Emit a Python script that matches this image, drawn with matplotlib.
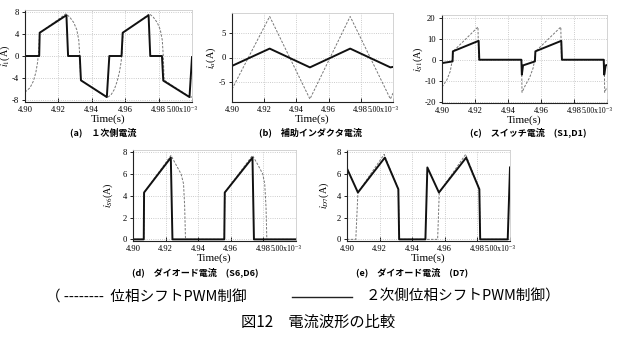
import matplotlib
matplotlib.use('Agg')
import matplotlib.pyplot as plt
from matplotlib.lines import Line2D

plt.rcParams['font.family'] = ['Liberation Serif', 'DejaVu Serif']
plt.rcParams['mathtext.fontset'] = 'stix'
plt.rcParams['axes.unicode_minus'] = False

# time axis (x10^-3 s)
xticks = [4.90, 4.92, 4.94, 4.96, 4.98, 5.00]
xticklabels = ['4.90', '4.92', '4.94', '4.96', '4.98', '5.00x10⁻³']

# (a) primary current
t_a = [4.900, 4.9085, 4.9088, 4.9248, 4.9258, 4.9328, 4.9335, 4.9490, 4.9505,
       4.9578, 4.9585, 4.9740, 4.9750, 4.9820, 4.9828, 4.9985, 5.000]
i1_new = [0, 0, 4.25, 7.45, 0, 0, -4.45, -7.5, 0, 0, 4.25, 7.45, 0, 0, -4.5, -7.5, -0.2]
t_a_old = [4.900, 4.903, 4.905, 4.9065, 4.9075, 4.9082, 4.9087, 4.9245, 4.9268, 4.9292,
           4.9310, 4.9322, 4.9328, 4.9333, 4.9492, 4.9515, 4.9535, 4.9552, 4.9565,
           4.9575, 4.9582, 4.9587, 4.9745, 4.9768, 4.9792, 4.9810, 4.9822, 4.9828,
           4.9833, 4.9992, 5.000]
i1_old = [-6.6, -5.8, -4.6, -3.0, -1.2, 0.8, 4.2, 7.7, 7.1, 6.1, 4.8, 2.9, 0.0, -4.4,
          -7.6, -7.1, -6.1, -4.6, -3.0, -1.2, 0.8, 4.2, 7.7, 7.1, 6.1, 4.8, 2.9, 0.0,
          -4.4, -7.6, -7.4]

# (b) auxiliary inductor current
t_b = [4.900, 4.9234, 4.9484, 4.9734, 4.9984, 5.000]
ia_new = [-1.7, 1.8, -2.0, 1.8, -2.0, -1.9]
ia_old = [-6.4, 8.3, -8.4, 8.3, -8.4, -7.2]

# (c) switch current S1,D1
t_c = [4.900, 4.9064, 4.9066, 4.9222, 4.9226, 4.9481, 4.9484, 4.9491, 4.9563,
       4.9566, 4.9723, 4.9727, 4.9980, 4.9983, 4.9992, 5.000]
is1_new = [-1.6, -0.8, 4.0, 9.0, 0, 0, -7.1, -2.7, -0.8, 4.0, 9.0, 0, 0, -7.1, -2.7, -2.5]
t_c_old = [4.900, 4.903, 4.905, 4.9061, 4.9066, 4.9068, 4.9218, 4.9222, 4.9482,
           4.9485, 4.9505, 4.9531, 4.9552, 4.9562, 4.9568, 4.9720, 4.9724, 4.9983,
           4.9986, 5.000]
is1_old = [-13.0, -9.5, -5.5, -0.8, 2.0, 4.0, 15.6, 0, 0, -15.5, -12.2, -8.5, -4.0,
           0.0, 4.0, 15.6, 0, 0, -15.5, -13.0]

# (d) diode current S6,D6
t_d = [4.900, 4.9066, 4.9068, 4.9232, 4.9242, 4.9560, 4.9563, 4.9733, 4.9742, 5.000]
is6_new = [0, 0, 4.3, 7.5, 0, 0, 4.3, 7.5, 0, 0]
t_d_old = [4.900, 4.9066, 4.9068, 4.9233, 4.9262, 4.9295, 4.9310, 4.9317, 4.9322,
           4.9560, 4.9563, 4.9733, 4.9764, 4.9796, 4.9808, 4.9816, 4.9821, 5.000]
is6_old = [0, 0, 4.3, 7.7, 6.9, 6.0, 5.1, 3.0, 0, 0, 4.3, 7.7, 6.9, 6.0, 5.1, 3.0, 0, 0]

# (e) diode current D7
t_e = [4.900, 4.9067, 4.9232, 4.9315, 4.9320, 4.9481, 4.9493, 4.9564, 4.9731,
       4.9812, 4.9817, 4.9986, 5.000]
id7_new = [6.5, 4.3, 7.5, 4.6, 0, 0, 6.6, 4.3, 7.5, 4.6, 0, 0, 6.6]
t_e_old = [4.900, 4.9054, 4.9067, 4.9228, 4.9315, 4.9320, 4.9556, 4.9566, 4.9728,
           4.9812, 4.9817, 5.000]
id7_old = [0, 0, 4.3, 7.8, 4.6, 0, 0, 4.3, 7.8, 4.6, 0, 0]

W, H = 621, 343
fig = plt.figure(figsize=(W / 100, H / 100), dpi=100)

OLD_STYLE = dict(color='#777777', lw=0.7, ls=(0, (2.5, 1.5)))
NEW_STYLE = dict(color='#111111', lw=1.4)


def panel(l, t, r, b, ylim, yticks, ylabel, ylab_off=16):
    ax = fig.add_axes([l / W, 1 - b / H, (r - l) / W, (b - t) / H])
    ax.set_xlim(4.90, 5.00)
    ax.set_ylim(*ylim)
    ax.set_xticks(xticks)
    # last label (with the exponent) is drawn separately, shifted like the original
    ax.set_xticklabels(xticklabels[:-1] + [''])
    ax.annotate(xticklabels[-1], xy=(1.0, 0), xycoords='axes fraction',
                xytext=(4.2, -3.2), textcoords='offset points', ha='right', va='top',
                fontsize=5.5)
    ax.set_yticks(yticks)
    ax.tick_params(axis='x', direction='in', length=3, width=0.6, labelsize=6.2, pad=3)
    ax.tick_params(axis='y', direction='out', length=2.5, width=0.6, labelsize=6.2, pad=2)
    ax.grid(True, color='#bbbbbb', linestyle=':', linewidth=0.6)
    for s in ['top', 'right']:
        ax.spines[s].set_color('#cccccc')
        ax.spines[s].set_linewidth(0.6)
    for s in ['left', 'bottom']:
        ax.spines[s].set_color('#222222')
        ax.spines[s].set_linewidth(0.8)
    ax.set_xlabel('Time(s)', fontsize=8, labelpad=0.5)
    ax.set_ylabel(ylabel, fontsize=7.2)
    ax.yaxis.set_label_coords(-ylab_off / (r - l), 0.5)
    return ax


def curves(ax, t_new, y_new, t_old, y_old):
    ax.plot(t_old, y_old, **OLD_STYLE)
    ax.plot(t_new, y_new, **NEW_STYLE)


ax = panel(25, 10, 192, 102, (-8.4, 8.4), [-8, -4, 0, 4, 8], '$i_1$(A)', 13)
curves(ax, t_a, i1_new, t_a_old, i1_old)

ax = panel(232, 13, 393, 102, (-9.0, 9.0), [-5, 0, 5], '$i_a$(A)', 14)
curves(ax, t_b, ia_new, t_b, ia_old)

ax = panel(442, 15, 607, 103, (-20.6, 21.3), [-20, -10, 0, 10, 20], '$i_{S1}$(A)', 17)
curves(ax, t_c, is1_new, t_c_old, is1_old)

ax = panel(133, 150, 296, 241, (-0.15, 8.2), [0, 2, 4, 6, 8], '$i_{S6}$(A)', 18)
curves(ax, t_d, is6_new, t_d_old, is6_old)

ax = panel(347, 150, 510, 241, (-0.15, 8.2), [0, 2, 4, 6, 8], '$i_{D7}$(A)', 16)
curves(ax, t_e, id7_new, t_e_old, id7_old)

jp = ['Noto Sans CJK JP', 'DejaVu Sans']


def ftext(x, y, s, size, **kw):
    fig.text(x / W, 1 - y / H, s, fontsize=size, family=jp, va='center', **kw)


ftext(103, 132, '(a)　１次側電流', 6.5, ha='center', weight='bold')
ftext(310, 132, '(b)　補助インダクタ電流', 6.5, ha='center', weight='bold')
ftext(528, 132, '(c)　スイッチ電流　(S1,D1)', 6.5, ha='center', weight='bold')
ftext(195, 272, '(d)　ダイオード電流　(S6,D6)', 6.5, ha='center', weight='bold')
ftext(412, 272, '(e)　ダイオード電流　(D7)', 6.5, ha='center', weight='bold')

# legend row
ftext(46, 297, '（ --------  位相シフトPWM制御', 10.5, ha='left')
fig.add_artist(Line2D([292 / W, 352 / W], [1 - 297 / H, 1 - 297 / H],
                      color='#222222', lw=1.0))
ftext(366, 297, '２次側位相シフトPWM制御）', 10.5, ha='left')
ftext(318, 322, '図12　電流波形の比較', 11, ha='center')

fig.savefig('out.png', dpi=100, facecolor='white')
